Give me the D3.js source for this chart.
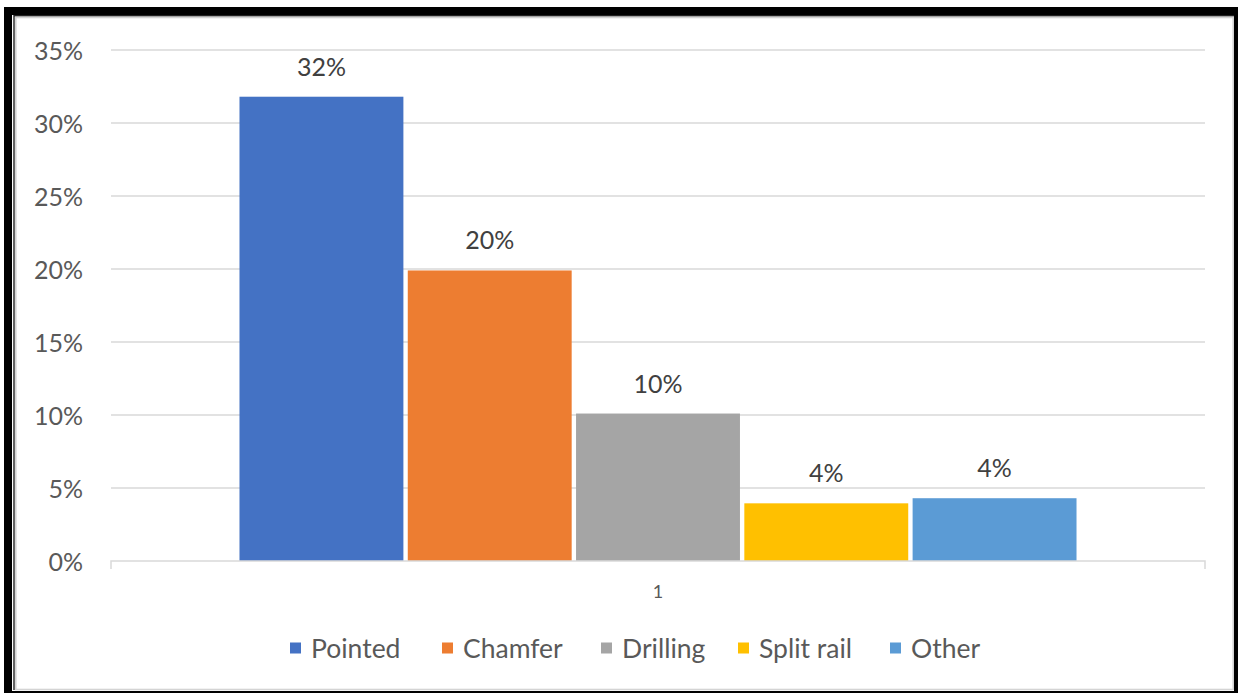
<!DOCTYPE html>
<html>
<head>
<meta charset="utf-8">
<script src="https://cdn.jsdelivr.net/npm/d3@7"></script>
<style>
  html, body { margin: 0; padding: 0; background: #ffffff; }
  svg { display: block; }
  text { font-family: Lato, "Open Sans", "Noto Sans", sans-serif; }
</style>
</head>
<body>
<svg id="chart" width="1239" height="694"></svg>
<script>
// Share of cases per type
const categories = ["1"];
const seriesNames = ["Pointed", "Chamfer", "Drilling", "Split rail", "Other"];
const seriesValues = [0.318, 0.199, 0.101, 0.0395, 0.043];
const seriesColors = ["#4472C4", "#ED7D31", "#A5A5A5", "#FFC000", "#5B9BD5"];
const yTicks = [0, 0.05, 0.10, 0.15, 0.20, 0.25, 0.30, 0.35];

const svg = d3.select("#chart");

// Frame: heavy black border with a grey inner edge
svg.append("rect").attr("x", 4).attr("y", 7).attr("width", 1234).attr("height", 686).attr("fill", "#000");
svg.append("rect").attr("x", 12).attr("y", 15).attr("width", 1222).attr("height", 676).attr("fill", "#fff");
svg.append("path").attr("d", "M14,690 V15.8 H1234").attr("fill", "none").attr("stroke", "#222").attr("stroke-width", 1.4);
svg.append("rect").attr("x", 15.8).attr("y", 17.5).attr("width", 1217.4).attr("height", 672)
  .attr("fill", "none").attr("stroke", "#d4d4d4").attr("stroke-width", 1.6);

const plot = { left: 111, right: 1205, top: 50, bottom: 561 };

const y = d3.scaleLinear().domain([0, 0.35]).range([plot.bottom, plot.top]);

const x0 = d3.scaleBand().domain(categories).range([plot.left, plot.right])
  .paddingInner(0).paddingOuter(0.1535);
const x1 = d3.scaleBand().domain(seriesNames).range([0, x0.bandwidth()]).paddingInner(0.026);

const pct = d3.format(".0%");
const textColor = "#595959";

// Gridlines
const grid = svg.append("g");
grid.selectAll("line").data(yTicks.filter(d => d > 0)).join("line")
  .attr("x1", plot.left).attr("x2", plot.right)
  .attr("y1", d => y(d)).attr("y2", d => y(d))
  .attr("stroke", "#d9d9d9").attr("stroke-width", 1.5);

// Y axis labels
const yAxis = d3.axisLeft(y).tickValues(yTicks).tickFormat(pct).tickSize(0).tickPadding(28);
const yg = svg.append("g").attr("transform", `translate(${plot.left},0)`).call(yAxis);
yg.select(".domain").remove();
yg.selectAll("text").attr("fill", textColor).style("font-size", "25px")
  .style("font-family", "Lato, 'Open Sans', sans-serif").attr("dy", "0.36em");

// Bars
const bars = svg.append("g");
bars.selectAll("rect").data(seriesNames).join("rect")
  .attr("x", (d) => x0(categories[0]) + x1(d))
  .attr("width", x1.bandwidth())
  .attr("y", (d, i) => y(seriesValues[i]))
  .attr("height", (d, i) => y(0) - y(seriesValues[i]))
  .attr("fill", (d, i) => seriesColors[i]);

// Value labels
svg.append("g").selectAll("text").data(seriesNames).join("text")
  .attr("x", d => x0(categories[0]) + x1(d) + x1.bandwidth() / 2)
  .attr("y", (d, i) => y(seriesValues[i]) - 21)
  .attr("text-anchor", "middle")
  .attr("fill", "#404040")
  .style("font-size", "25px")
  .text((d, i) => pct(seriesValues[i]));

// X axis baseline with end ticks
const xAxis = d3.axisBottom(x0).tickSize(0).tickPadding(0);
const xg = svg.append("g").attr("transform", `translate(0,${plot.bottom})`).call(xAxis);
xg.select(".domain").remove();
xg.append("path")
  .attr("d", `M${plot.left},8 V0 H${plot.right} V8`)
  .attr("fill", "none").attr("stroke", "#d9d9d9").attr("stroke-width", 1.5);
xg.selectAll(".tick text").attr("fill", textColor).style("font-size", "18px")
  .style("font-family", "Lato, 'Open Sans', sans-serif").attr("y", 37).attr("dy", 0);

// Legend
const legendX = [290, 442, 601, 738, 890];
const legend = svg.append("g");
const items = legend.selectAll("g").data(seriesNames).join("g")
  .attr("transform", (d, i) => `translate(${legendX[i]},648)`);
items.append("rect").attr("x", 0).attr("y", -5.5).attr("width", 11).attr("height", 11)
  .attr("fill", (d, i) => seriesColors[i]);
items.append("text").attr("x", 21).attr("y", 0).attr("dy", "0.36em")
  .attr("fill", textColor).style("font-size", "26.5px").text(d => d);
</script>
</body>
</html>
